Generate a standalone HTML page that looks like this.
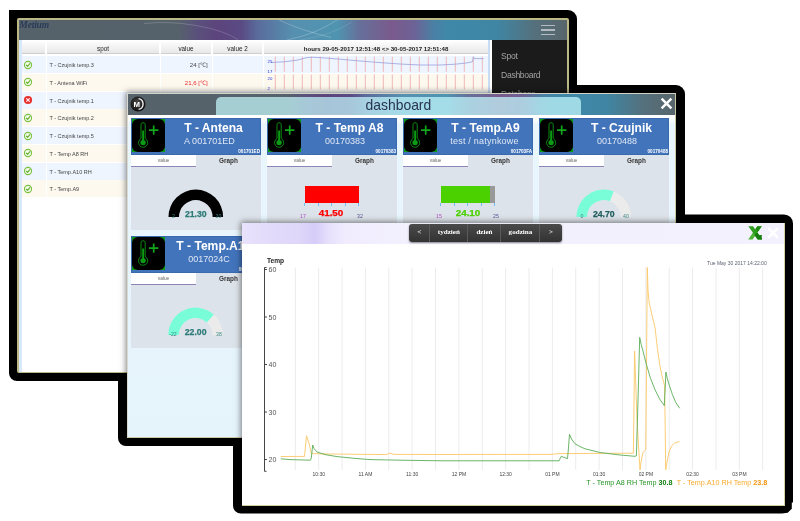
<!DOCTYPE html>
<html>
<head>
<meta charset="utf-8">
<style>
*{box-sizing:border-box;margin:0;padding:0}
html,body{width:800px;height:521px;background:#fff;overflow:hidden;font-family:"Liberation Sans",sans-serif;}
#root{position:absolute;left:0;top:0;width:800px;height:521px;will-change:transform;transform:translateZ(0)}
.a{position:absolute}
.frame{position:absolute;background:#000;border-radius:7px}
.win{position:absolute;overflow:hidden;border:1px solid #b9b27c;filter:blur(.35px)}
.clip{position:absolute;overflow:hidden}
.sh{position:absolute;box-shadow:0 0 6px 1px rgba(0,0,0,.5)}
/* window 1 */
#w1{left:17px;top:18px;width:552.4px;height:355px;background:#fff;border:2px solid #bdb986;border-bottom-width:1px;border-radius:2px}
#w1 .hdr{position:absolute;left:0;top:0;width:549px;height:20px;
 background:linear-gradient(90deg,#55626a 0,#56626b 29%,#5a507c 32.5%,#5c447c 36%,#5a4a84 40.5%,#5a6c9c 43.5%,#5690b0 50%,#4f94b0 58%,#66709a 62%,#7a5a8c 68%,#6d6296 72%,#4a80a4 75.5%,#3f88a8 78%,#3f86a4 87%,#55707c 94%,#58656b 100%)}
#w1 .logo{position:absolute;left:0.3px;top:-1.4px;font:italic bold 9.6px "Liberation Serif",serif;color:#2b3a58;letter-spacing:-.2px}
#w1 .body{position:absolute;left:0;top:20px;width:470.5px;height:333px;background:#fff;border-left:3px solid #d9e8fb;border-right:2px solid #c9dcf6}
.th{position:absolute;top:22.2px;height:11.8px;background:linear-gradient(#fbfbfb,#e8e8e8);border-bottom:1px solid #cfcfcf;font-size:6.3px;line-height:13.2px;text-align:center;color:#222}
.row{position:absolute;left:3px;width:466px;height:17px}
.row.b{background:#eef5fe}
.row.c{background:#fdf9ef}
.row span{position:absolute;top:0;line-height:19px;font-size:5.5px;color:#444;white-space:nowrap}
.vsep{position:absolute;top:22px;width:1.6px;height:160px;background:#fff}
.side{position:absolute;left:473px;top:20px;width:76px;height:333px;background:#1b1b1b;color:#a2a2a2;font-size:8.6px;letter-spacing:-.3px}
.side div{position:absolute;left:9px}
/* window 2 */
#w2{left:127px;top:93px;width:549.3px;height:345px;background:linear-gradient(#fff 0,#fff 24px,#e9f6fd 30px,#e5f3fb 100%);border-color:#d4d4c6 #cbc8a6 #cbc8a6 #d8d8d0}
#w2 .hdr{position:absolute;left:0;top:0;width:549px;height:20.8px;
 background:linear-gradient(90deg,#55626a 0,#56626b 29%,#5a507c 32.5%,#5c447c 36%,#5a4a84 40.5%,#5a6c9c 43.5%,#5690b0 50%,#4f94b0 58%,#66709a 62%,#7a5a8c 68%,#6d6296 72%,#4a80a4 75.5%,#3f88a8 78%,#3f86a4 87%,#55707c 94%,#58656b 100%)}
#w2 .tab{position:absolute;left:87.6px;top:3.2px;width:365.6px;height:17.6px;border-radius:5px 5px 0 0;
 background:rgba(200,252,255,.7);font-size:13.9px;line-height:17px;text-align:center;color:#283352}
.card{position:absolute;width:130px;height:112px;background:#dde3ea}
.card .ch{position:absolute;left:0;top:0;width:130px;height:36.6px;background:#4274bc;border:1px solid #3a69ae}
.card .ic{position:absolute;left:1.2px;top:1.3px;width:32.8px;height:32.4px;background:#0a9a12;overflow:hidden}
.card .ic i{position:absolute;left:0;top:0;width:32.8px;height:32.4px;background:#000;border-radius:6px}
.card .t1{position:absolute;top:2.4px;font-weight:bold;font-size:12.1px;line-height:14px;color:#fff;white-space:nowrap;transform:translateX(-50%)}
.card .t2{position:absolute;top:18px;font-size:9px;line-height:11px;color:#dfe7f3;white-space:nowrap;transform:translateX(-50%)}
.card .t3{position:absolute;right:1px;top:30.4px;font-weight:bold;font-size:4.6px;line-height:6px;color:#fff;white-space:nowrap}
.card .tv{position:absolute;left:0;top:36.6px;width:65px;height:11.8px;background:#fff;border-bottom:1px solid #8d84b8;font-size:4.8px;line-height:12.6px;text-align:center;color:#666}
.card .tg{position:absolute;left:65px;top:36.6px;width:65px;height:12px;font-weight:bold;font-size:6.4px;line-height:12.8px;text-align:center;color:#333}
.val{position:absolute;font-weight:bold;font-size:8.7px;line-height:10px;white-space:nowrap;transform:translateX(-50%);-webkit-text-stroke:.25px currentColor}
.val.w{font-size:8.2px;transform:translateX(-50%) scaleX(1.2)}
.lab{position:absolute;font-size:5.2px;line-height:6px;white-space:nowrap;transform:translateX(-50%)}

/* window 3 */
#w3{left:242px;top:222.8px;width:543.2px;height:283px;background:#fff;border-color:#d6d2a8 #d6d2a8 #d2cea2 #d6d2a8;border-width:0 1.5px 1px 0}
#w3 .hdr{position:absolute;left:0;top:0;width:543px;height:21.2px;
 background:linear-gradient(90deg,#e8e2fc 0,#e1dafa 6%,#dfd7fa 10.5%,#d6ccf8 13.4%,#e6e0fc 16%,#f0ecfe 19%,#f3f0fe 30%,#f3f1fe 100%)}
.btns{position:absolute;left:167.2px;top:1.5px;width:152.6px;height:17.8px;border-radius:3px;background:linear-gradient(#4a4a4a,#333);box-shadow:0 1px 2px rgba(0,0,0,.45);overflow:hidden}
.btns div{position:absolute;top:0;height:18px;line-height:17px;text-align:center;color:#fff;font:bold 7.1px/17px "Liberation Serif",serif;border-right:1px solid #5a5a5a}
</style>
</head>
<body>
<div id="root">
<div class="frame" style="left:9px;top:10px;width:567.6px;height:370.8px;border-radius:0 9px 0 8px"></div>
<div class="frame" style="left:118.3px;top:85.3px;width:566.4px;height:360.8px;border-radius:0 9px 0 8px"></div>
<svg class="a" style="left:0;top:0" width="800" height="521" viewBox="0 0 800 521"><path d="M233 214.4H784A9 9 0 0 1 793 223.4V502.6H791.8V508.8L787.7 512.7L782 513.6H241A8 8 0 0 1 233 505.6Z" fill="#000"/></svg>
<div class="win" id="w1">
<div class="hdr"></div>
<svg class="a" style="left:0;top:0" width="549" height="20" viewBox="19 20 549 20"><g fill="none" stroke="#fff" stroke-width=".8"><path d="M144 23.6Q168 20.6 196 25.5T238 39.6" stroke-opacity=".22"/><path d="M279 20Q300 30 331 37.5" stroke-opacity=".28"/><path d="M287 40Q316 34 337 20" stroke-opacity=".28"/><path d="M300 40Q330 36 352 22" stroke-opacity=".15"/></g></svg>
<div class="logo">Metium</div>
<div class="a" style="left:522px;top:4.85px;width:13.6px;height:1.6px;background:#b3bbc0"></div>
<div class="a" style="left:522px;top:9.35px;width:13.6px;height:1.6px;background:#b3bbc0"></div>
<div class="a" style="left:522px;top:13.85px;width:13.6px;height:1.6px;background:#b3bbc0"></div>
<div class="body"></div>
<div class="th" style="left:3px;width:23px;"></div>
<div class="th" style="left:28px;width:112px;">spot</div>
<div class="th" style="left:142px;width:50px;">value</div>
<div class="th" style="left:194px;width:49px;">value 2</div>
<div class="th" style="left:245px;width:224px;font-weight:bold;font-size:6.15px;">hours 29-05-2017 12:51:48 &lt;&gt; 30-05-2017 12:51:48</div>
<div class="row b" style="top:36.00px">
<span style="left:27.4px">T - Czujnik temp.3</span>
<span style="right:280.3px;top:-1px;color:#444;font-size:6.1px">24 [&#8451;]</span>
</div>
<svg class="a" style="left:4.20px;top:39.50px" width="10" height="10" viewBox="0 0 10 10"><circle cx="5" cy="5" r="3.6" fill="#f4fbe9" stroke="#7cc142" stroke-width="1.1"/><path d="M3.2 5.1L4.6 6.4L6.9 3.7" stroke="#5fae2c" stroke-width="1.1" fill="none" stroke-linecap="round" stroke-linejoin="round"/></svg>
<div class="row c" style="top:53.75px">
<span style="left:27.4px">T - Antena WiFi</span>
<span style="right:280.3px;top:-1px;color:#e8262a;font-size:6.1px">21,6 [&#8451;]</span>
</div>
<svg class="a" style="left:4.20px;top:57.25px" width="10" height="10" viewBox="0 0 10 10"><circle cx="5" cy="5" r="3.6" fill="#f4fbe9" stroke="#7cc142" stroke-width="1.1"/><path d="M3.2 5.1L4.6 6.4L6.9 3.7" stroke="#5fae2c" stroke-width="1.1" fill="none" stroke-linecap="round" stroke-linejoin="round"/></svg>
<div class="row b" style="top:71.50px">
<span style="left:27.4px">T - Czujnik temp.1</span>
</div>
<svg class="a" style="left:4.20px;top:75.00px" width="10" height="10" viewBox="0 0 10 10"><circle cx="5" cy="5" r="4.1" fill="#e8312f"/><path d="M3.3 3.3L6.7 6.7M6.7 3.3L3.3 6.7" stroke="#fff" stroke-width="1.05"/></svg>
<div class="row c" style="top:89.25px">
<span style="left:27.4px">T - Czujnik temp.2</span>
</div>
<svg class="a" style="left:4.20px;top:92.75px" width="10" height="10" viewBox="0 0 10 10"><circle cx="5" cy="5" r="3.6" fill="#f4fbe9" stroke="#7cc142" stroke-width="1.1"/><path d="M3.2 5.1L4.6 6.4L6.9 3.7" stroke="#5fae2c" stroke-width="1.1" fill="none" stroke-linecap="round" stroke-linejoin="round"/></svg>
<div class="row b" style="top:107.00px">
<span style="left:27.4px">T - Czujnik temp.5</span>
</div>
<svg class="a" style="left:4.20px;top:110.50px" width="10" height="10" viewBox="0 0 10 10"><circle cx="5" cy="5" r="3.6" fill="#f4fbe9" stroke="#7cc142" stroke-width="1.1"/><path d="M3.2 5.1L4.6 6.4L6.9 3.7" stroke="#5fae2c" stroke-width="1.1" fill="none" stroke-linecap="round" stroke-linejoin="round"/></svg>
<div class="row c" style="top:124.75px">
<span style="left:27.4px">T - Temp A8 RH</span>
</div>
<svg class="a" style="left:4.20px;top:128.25px" width="10" height="10" viewBox="0 0 10 10"><circle cx="5" cy="5" r="3.6" fill="#f4fbe9" stroke="#7cc142" stroke-width="1.1"/><path d="M3.2 5.1L4.6 6.4L6.9 3.7" stroke="#5fae2c" stroke-width="1.1" fill="none" stroke-linecap="round" stroke-linejoin="round"/></svg>
<div class="row b" style="top:142.50px">
<span style="left:27.4px">T - Temp.A10 RH</span>
</div>
<svg class="a" style="left:4.20px;top:146.00px" width="10" height="10" viewBox="0 0 10 10"><circle cx="5" cy="5" r="3.6" fill="#f4fbe9" stroke="#7cc142" stroke-width="1.1"/><path d="M3.2 5.1L4.6 6.4L6.9 3.7" stroke="#5fae2c" stroke-width="1.1" fill="none" stroke-linecap="round" stroke-linejoin="round"/></svg>
<div class="row c" style="top:160.25px">
<span style="left:27.4px">T - Temp.A9</span>
</div>
<svg class="a" style="left:4.20px;top:163.75px" width="10" height="10" viewBox="0 0 10 10"><circle cx="5" cy="5" r="3.6" fill="#f4fbe9" stroke="#7cc142" stroke-width="1.1"/><path d="M3.2 5.1L4.6 6.4L6.9 3.7" stroke="#5fae2c" stroke-width="1.1" fill="none" stroke-linecap="round" stroke-linejoin="round"/></svg>
<div class="vsep" style="left:26.5px"></div>
<div class="vsep" style="left:140.5px"></div>
<div class="vsep" style="left:192.5px"></div>
<div class="vsep" style="left:243.5px"></div>
<svg class="a" style="left:245px;top:35px" width="226" height="38" viewBox="264 55 226 38">
<path d="M275.3 56.7V71.8M275.3 74.5V89.4" stroke="#eeb0b0" stroke-width=".9" fill="none"/>
<path d="M284.3 56.7V71.8M284.3 74.5V89.4" stroke="#eeb0b0" stroke-width=".9" fill="none"/>
<path d="M293.3 56.7V71.8M293.3 74.5V89.4" stroke="#eeb0b0" stroke-width=".9" fill="none"/>
<path d="M302.3 56.7V71.8M302.3 74.5V89.4" stroke="#eeb0b0" stroke-width=".9" fill="none"/>
<path d="M311.3 56.7V71.8M311.3 74.5V89.4" stroke="#eeb0b0" stroke-width=".9" fill="none"/>
<path d="M320.3 56.7V71.8M320.3 74.5V89.4" stroke="#eeb0b0" stroke-width=".9" fill="none"/>
<path d="M329.3 56.7V71.8M329.3 74.5V89.4" stroke="#eeb0b0" stroke-width=".9" fill="none"/>
<path d="M338.3 56.7V71.8M338.3 74.5V89.4" stroke="#eeb0b0" stroke-width=".9" fill="none"/>
<path d="M347.3 56.7V71.8M347.3 74.5V89.4" stroke="#eeb0b0" stroke-width=".9" fill="none"/>
<path d="M356.3 56.7V71.8M356.3 74.5V89.4" stroke="#eeb0b0" stroke-width=".9" fill="none"/>
<path d="M365.3 56.7V71.8M365.3 74.5V89.4" stroke="#eeb0b0" stroke-width=".9" fill="none"/>
<path d="M374.3 56.7V71.8M374.3 74.5V89.4" stroke="#eeb0b0" stroke-width=".9" fill="none"/>
<path d="M383.3 56.7V71.8M383.3 74.5V89.4" stroke="#eeb0b0" stroke-width=".9" fill="none"/>
<path d="M392.3 56.7V71.8M392.3 74.5V89.4" stroke="#eeb0b0" stroke-width=".9" fill="none"/>
<path d="M401.3 56.7V71.8M401.3 74.5V89.4" stroke="#eeb0b0" stroke-width=".9" fill="none"/>
<path d="M410.3 56.7V71.8M410.3 74.5V89.4" stroke="#eeb0b0" stroke-width=".9" fill="none"/>
<path d="M419.3 56.7V71.8M419.3 74.5V89.4" stroke="#eeb0b0" stroke-width=".9" fill="none"/>
<path d="M428.3 56.7V71.8M428.3 74.5V89.4" stroke="#eeb0b0" stroke-width=".9" fill="none"/>
<path d="M437.3 56.7V71.8M437.3 74.5V89.4" stroke="#eeb0b0" stroke-width=".9" fill="none"/>
<path d="M446.3 56.7V71.8M446.3 74.5V89.4" stroke="#eeb0b0" stroke-width=".9" fill="none"/>
<path d="M455.3 56.7V71.8M455.3 74.5V89.4" stroke="#eeb0b0" stroke-width=".9" fill="none"/>
<path d="M464.3 56.7V71.8M464.3 74.5V89.4" stroke="#eeb0b0" stroke-width=".9" fill="none"/>
<path d="M473.3 56.7V71.8M473.3 74.5V89.4" stroke="#eeb0b0" stroke-width=".9" fill="none"/>
<path d="M482.3 56.7V71.8M482.3 74.5V89.4" stroke="#eeb0b0" stroke-width=".9" fill="none"/>
<path d="M271 62.5 L284 61.8 L297 60.2 L306 57.8 L311 57.2 L320 57.6 L340 59.2 L360 61 L380 62.6 L400 64 L420 65 L440 65 L455 64.2 L465 63.2 L472.4 61.8 L473.4 56.8 L474.6 58.6 L483.5 58.6" stroke="#9aa0dc" stroke-width=".8" fill="none"/>
<text x="267.5" y="62.5" font-size="4.3" fill="#2030d0" font-family="Liberation Sans">25</text>
<text x="267.5" y="72.7" font-size="4.3" fill="#2030d0" font-family="Liberation Sans">17</text>
<text x="267.5" y="80" font-size="4.3" fill="#2030d0" font-family="Liberation Sans">20</text>
<text x="267.5" y="90" font-size="4.3" fill="#2030d0" font-family="Liberation Sans">2</text>
</svg>
<div class="side"><div style="top:11px">Spot</div><div style="top:30.2px">Dashboard</div><div style="top:49.4px">Database</div></div>
</div>
<div class="clip" style="left:17px;top:18px;width:552px;height:355px"><div class="sh" style="left:110px;top:75px;width:549.3px;height:345px"></div></div>
<div class="win" id="w2">
<div class="hdr"></div><div class="tab">dashboard</div>
<svg class="a" style="left:1.9px;top:2.25px" width="16" height="16" viewBox="0 0 16 16"><defs><radialGradient id="mg" cx=".45" cy=".4" r=".6"><stop offset="0" stop-color="#4a4a4a"/><stop offset="1" stop-color="#0c0c0c"/></radialGradient></defs><circle cx="8" cy="8" r="7.5" fill="url(#mg)"/><path d="M8.6 2.6A5.5 5.5 0 0 1 8.6 13.4" fill="none" stroke="#f6f6f6" stroke-width="1.35"/><text x="6.7" y="10.9" text-anchor="middle" font-family="Liberation Sans" font-weight="bold" font-size="7.8" fill="#fff">M</text></svg>
<svg class="a" style="left:532.3px;top:2.9px" width="13" height="13" viewBox="0 0 13 13"><path d="M1.6 1.6L11.4 11.4M11.4 1.6L1.6 11.4" stroke="#fff" stroke-width="2.5" fill="none"/></svg>
<div class="card" style="left:3px;top:24.200000000000003px"><div class="ch"></div><div class="ic"><i></i><svg class="a" style="left:0;top:0" width="33" height="33" viewBox="0 0 33 33"><path d="M9 5.8a2.1 2.1 0 0 1 4.2 0V19.6a4.6 4.6 0 1 1 -4.2 0Z" fill="none" stroke="#0a8a10" stroke-width="1"/><circle cx="11.1" cy="23.6" r="2.7" fill="#0c9c14"/><rect x="10.2" y="11.5" width="1.9" height="11" fill="#0c9c14"/><path d="M17 11.1H26.4M21.7 6.4V15.8" stroke="#10a81a" stroke-width="1.7" fill="none"/></svg></div><div class="t1" style="left:82.5px">T - Antena</div><div class="t2" style="left:78.4px">A 001701ED</div><div class="t3">001701ED</div><div class="tv">value</div><div class="tg">Graph</div><svg class="a" style="left:0;top:60px" width="130" height="52" viewBox="0 60 130 52"><path d="M37.50 98.90A27.3 27.3 0 0 1 92.10 98.90L81.60 98.90A16.8 16.8 0 0 0 48.00 98.90Z" fill="#000"/></svg><div class="val" style="left:64.8px;top:90.60000000000001px;color:#2d7b78">21.30</div><div class="lab" style="left:42.5px;top:94.4px;color:#2d8a84">2</div><div class="lab" style="left:87.5px;top:94.4px;color:#3d8a86">20</div></div>
<div class="card" style="left:139px;top:24.200000000000003px"><div class="ch"></div><div class="ic"><i></i><svg class="a" style="left:0;top:0" width="33" height="33" viewBox="0 0 33 33"><path d="M9 5.8a2.1 2.1 0 0 1 4.2 0V19.6a4.6 4.6 0 1 1 -4.2 0Z" fill="none" stroke="#0a8a10" stroke-width="1"/><circle cx="11.1" cy="23.6" r="2.7" fill="#0c9c14"/><rect x="10.2" y="11.5" width="1.9" height="11" fill="#0c9c14"/><path d="M17 11.1H26.4M21.7 6.4V15.8" stroke="#10a81a" stroke-width="1.7" fill="none"/></svg></div><div class="t1" style="left:82.5px">T - Temp A8</div><div class="t2" style="left:78px">00170383</div><div class="t3">00170383</div><div class="tv">value</div><div class="tg">Graph</div><div class="a" style="left:37.6px;top:68.1px;width:54.199999999999996px;height:17px;background:#999"></div><div class="a" style="left:37.6px;top:68.1px;width:54.199999999999996px;height:17px;background:#ff0000"></div><div class="a" style="left:37.10px;top:84.8px;width:1px;height:3.2px;background:#74bdf2"></div><div class="a" style="left:50.65px;top:84.8px;width:1px;height:3.2px;background:#74bdf2"></div><div class="a" style="left:64.20px;top:84.8px;width:1px;height:3.2px;background:#74bdf2"></div><div class="a" style="left:77.75px;top:84.8px;width:1px;height:3.2px;background:#74bdf2"></div><div class="a" style="left:91.30px;top:84.8px;width:1px;height:3.2px;background:#74bdf2"></div><div class="val w" style="left:64.3px;top:90.8px;color:#ff0000">41.50</div><div class="lab" style="left:36px;top:94.4px;color:#b04fc0">17</div><div class="lab" style="left:93px;top:94.4px;color:#5d4f92">32</div></div>
<div class="card" style="left:275px;top:24.200000000000003px"><div class="ch"></div><div class="ic"><i></i><svg class="a" style="left:0;top:0" width="33" height="33" viewBox="0 0 33 33"><path d="M9 5.8a2.1 2.1 0 0 1 4.2 0V19.6a4.6 4.6 0 1 1 -4.2 0Z" fill="none" stroke="#0a8a10" stroke-width="1"/><circle cx="11.1" cy="23.6" r="2.7" fill="#0c9c14"/><rect x="10.2" y="11.5" width="1.9" height="11" fill="#0c9c14"/><path d="M17 11.1H26.4M21.7 6.4V15.8" stroke="#10a81a" stroke-width="1.7" fill="none"/></svg></div><div class="t1" style="left:82.5px">T - Temp.A9</div><div class="t2" style="left:81.5px"><span style="letter-spacing:.22px">test / natynkowe</span></div><div class="t3">001703FA</div><div class="tv">value</div><div class="tg">Graph</div><div class="a" style="left:37.6px;top:68.1px;width:54.199999999999996px;height:17px;background:#999"></div><div class="a" style="left:37.6px;top:68.1px;width:49.4px;height:17px;background:#4cd100"></div><div class="a" style="left:37.10px;top:84.8px;width:1px;height:3.2px;background:#74bdf2"></div><div class="a" style="left:50.65px;top:84.8px;width:1px;height:3.2px;background:#74bdf2"></div><div class="a" style="left:64.20px;top:84.8px;width:1px;height:3.2px;background:#74bdf2"></div><div class="a" style="left:77.75px;top:84.8px;width:1px;height:3.2px;background:#74bdf2"></div><div class="a" style="left:91.30px;top:84.8px;width:1px;height:3.2px;background:#74bdf2"></div><div class="val w" style="left:64.5px;top:90.8px;color:#4cd100">24.10</div><div class="lab" style="left:36px;top:94.4px;color:#b04fc0">15</div><div class="lab" style="left:93px;top:94.4px;color:#5d4f92">25</div></div>
<div class="card" style="left:411px;top:24.200000000000003px"><div class="ch"></div><div class="ic"><i></i><svg class="a" style="left:0;top:0" width="33" height="33" viewBox="0 0 33 33"><path d="M9 5.8a2.1 2.1 0 0 1 4.2 0V19.6a4.6 4.6 0 1 1 -4.2 0Z" fill="none" stroke="#0a8a10" stroke-width="1"/><circle cx="11.1" cy="23.6" r="2.7" fill="#0c9c14"/><rect x="10.2" y="11.5" width="1.9" height="11" fill="#0c9c14"/><path d="M17 11.1H26.4M21.7 6.4V15.8" stroke="#10a81a" stroke-width="1.7" fill="none"/></svg></div><div class="t1" style="left:82.5px">T - Czujnik</div><div class="t2" style="left:78px">00170488</div><div class="t3">00170488</div><div class="tv">value</div><div class="tg">Graph</div><svg class="a" style="left:0;top:60px" width="130" height="52" viewBox="0 60 130 52"><path d="M37.50 98.90A27.3 27.3 0 0 1 92.10 98.90L81.60 98.90A16.8 16.8 0 0 0 48.00 98.90Z" fill="#ebebeb"/><path d="M37.50 98.90A27.3 27.3 0 0 1 74.65 73.44L70.86 83.23A16.8 16.8 0 0 0 48.00 98.90Z" fill="#78fdd8"/></svg><div class="val" style="left:64.8px;top:90.60000000000001px;color:#1f5f5e">24.70</div><div class="lab" style="left:43px;top:94.4px;color:#2d8a84">0</div><div class="lab" style="left:87px;top:94.4px;color:#3d8a86">40</div></div>
<div class="card" style="left:3px;top:142.2px"><div class="ch"></div><div class="ic"><i></i><svg class="a" style="left:0;top:0" width="33" height="33" viewBox="0 0 33 33"><path d="M9 5.8a2.1 2.1 0 0 1 4.2 0V19.6a4.6 4.6 0 1 1 -4.2 0Z" fill="none" stroke="#0a8a10" stroke-width="1"/><circle cx="11.1" cy="23.6" r="2.7" fill="#0c9c14"/><rect x="10.2" y="11.5" width="1.9" height="11" fill="#0c9c14"/><path d="M17 11.1H26.4M21.7 6.4V15.8" stroke="#10a81a" stroke-width="1.7" fill="none"/></svg></div><div class="t1" style="left:82.80000000000001px">T - Temp.A10</div><div class="t2" style="left:78px">0017024C</div><div class="t3">0017024C</div><div class="tv">value</div><div class="tg">Graph</div><svg class="a" style="left:0;top:60px" width="130" height="52" viewBox="0 60 130 52"><path d="M37.30 98.90A27.3 27.3 0 0 1 91.90 98.90L81.40 98.90A16.8 16.8 0 0 0 47.80 98.90Z" fill="#ebebeb"/><path d="M37.30 98.90A27.3 27.3 0 0 1 82.87 78.61L75.84 86.42A16.8 16.8 0 0 0 47.80 98.90Z" fill="#78fdd8"/></svg><div class="val" style="left:64.6px;top:90.60000000000001px;color:#2d7b78">22.00</div><div class="lab" style="left:42px;top:94.4px;color:#2d8a84">-22</div><div class="lab" style="left:88px;top:94.4px;color:#3d8a86">38</div></div>
</div>
<div class="clip" style="left:127px;top:93px;width:551px;height:345px"><div class="sh" style="left:115px;top:129.8px;width:543px;height:283px"></div></div>
<div class="win" id="w3">
<div class="hdr"></div>
<div class="btns">
<div style="left:0px;width:21px;">&lt;</div>
<div style="left:21px;width:38.3px;">tydzień</div>
<div style="left:59.3px;width:33.0px;">dzień</div>
<div style="left:92.3px;width:38.89999999999999px;">godzina</div>
<div style="left:131.2px;width:21.400000000000006px;border-right:0;">&gt;</div>
</div>
<svg class="a" style="left:0;top:21px" width="543" height="260" viewBox="242 244 543 260" font-family="Liberation Sans">
<path d="M295.30 267.5V470M318.67 267.5V470M342.04 267.5V470M365.41 267.5V470M388.78 267.5V470M412.15 267.5V470M435.52 267.5V470M458.89 267.5V470M482.26 267.5V470M505.63 267.5V470M529.00 267.5V470M552.37 267.5V470M575.74 267.5V470M599.11 267.5V470M622.48 267.5V470M645.85 267.5V470M669.22 267.5V470M692.59 267.5V470M715.96 267.5V470M739.33 267.5V470M762.70 267.5V470" stroke="#ececec" stroke-width="1" fill="none"/>
<path d="M266.5 267.5H264.5V471.3H266.5" stroke="#444" stroke-width="1" fill="none"/>
<path d="M264.5 269.5H267" stroke="#444" stroke-width="1"/>
<text x="268.5" y="272.4" font-size="7" fill="#555">60</text>
<path d="M264.5 317H267" stroke="#444" stroke-width="1"/>
<text x="268.5" y="319.9" font-size="7" fill="#555">50</text>
<path d="M264.5 364.5H267" stroke="#444" stroke-width="1"/>
<text x="268.5" y="367.4" font-size="7" fill="#555">40</text>
<path d="M264.5 412H267" stroke="#444" stroke-width="1"/>
<text x="268.5" y="414.9" font-size="7" fill="#555">30</text>
<path d="M264.5 459.5H267" stroke="#444" stroke-width="1"/>
<text x="268.5" y="462.4" font-size="7" fill="#555">20</text>
<text x="267" y="263" font-size="6.6" font-weight="bold" fill="#222">Temp</text>
<text x="766.7" y="265.1" font-size="5" text-anchor="end" fill="#5a6270">Tue May 30 2017 14:22:00</text>
<text x="318.70" y="476" font-size="5" text-anchor="middle" fill="#444">10:30</text>
<text x="365.44" y="476" font-size="5" text-anchor="middle" fill="#444">11 AM</text>
<text x="412.18" y="476" font-size="5" text-anchor="middle" fill="#444">11:30</text>
<text x="458.92" y="476" font-size="5" text-anchor="middle" fill="#444">12 PM</text>
<text x="505.66" y="476" font-size="5" text-anchor="middle" fill="#444">12:30</text>
<text x="552.40" y="476" font-size="5" text-anchor="middle" fill="#444">01 PM</text>
<text x="599.14" y="476" font-size="5" text-anchor="middle" fill="#444">01:30</text>
<text x="645.88" y="476" font-size="5" text-anchor="middle" fill="#444">02 PM</text>
<text x="692.62" y="476" font-size="5" text-anchor="middle" fill="#444">02:30</text>
<text x="739.36" y="476" font-size="5" text-anchor="middle" fill="#444">03 PM</text>
<path d="M280.8 456.5 L304.5 456.4 L306.5 435.8 L309.5 445 L311.2 453.6 L330 454 L386 454.6 L389.5 453.2 L394 454.4 L440 454.5 L550 454.4 L560 453.6 L633.4 453.2 L634.6 351 L637 420 L640 470 L641 462 L643 452.5 L645.8 449.4 L646.4 380 L647.3 267.5 L648 290 L649.2 303 L651.5 313 L655.1 328 L657.4 348.4 L659.7 364.5 L662 376 L664.5 385.2 L665.1 420 L665.7 470 L667 462 L669 452 L671.5 446 L675 442.8 L679.5 441.6" stroke="#fbc766" stroke-width=".9" fill="none" stroke-linejoin="round"/>
<path d="M280.8 458.8 L290 459.6 L310.4 460.2 L311.3 458 L312.7 445 L314 448.5 L317 452 L325 454.6 L337 456.6 L355 458.4 L370 459.6 L400 460.2 L442 460.8 L559 460.8 L561.3 456.3 L564 457.4 L567.5 458.6 L568.3 450 L569.5 434.3 L571.5 439 L575 443.8 L580 446.6 L585 448.8 L600 452.5 L620 455 L635 456.3 L636.4 455.8 L638 400 L639.7 337.4 L641.2 344.5 L642.9 350.7 L646.4 364.5 L650.5 378.3 L655.1 389.9 L659.7 399.1 L664.3 405.6 L665.1 390 L665.9 372.1 L667.3 378.5 L668.9 384.1 L672.4 394.5 L675.8 402.5 L679.7 408.3" stroke="#5aad55" stroke-width=".9" fill="none" stroke-linejoin="round"/>
<text x="586.3" y="484.8" font-size="7.4" textLength="86.2" lengthAdjust="spacingAndGlyphs"><tspan fill="#259525">T - Temp A8 RH Temp </tspan><tspan fill="#0f7d0f" font-weight="bold">30.8</tspan></text>
<text x="676.7" y="484.8" font-size="7.4" textLength="90.5" lengthAdjust="spacingAndGlyphs"><tspan fill="#f9aa2e">T - Temp.A10 RH Temp </tspan><tspan fill="#f29408" font-weight="bold">23.8</tspan></text>
</svg>
<svg class="a" style="left:505.5px;top:3.25px" width="14.7" height="13.75" viewBox="0 0 14.7 13.75"><path d="M9.3 0.2H13.8L4.6 13.6H0.2Z" fill="#4fb536"/><path d="M9.3 0.2H13.8L9.6 6.3L7.2 3.4Z" fill="#1d8a14"/><path d="M0.4 0.2H5.1L9.3 6.4L11.3 9.3L14.5 9.1L13.2 10.9L14.7 13.6H9.7L5.3 7.3Z" fill="#2f9d1f"/><path d="M6.6 9.2L9.7 13.6H14.7L13.2 10.9L14.5 9.1L11.3 9.3L9.3 6.4Z" fill="#167c0e"/></svg>
<svg class="a" style="left:525.4px;top:4px" width="12" height="12" viewBox="0 0 12 12"><path d="M1.3 1.4L10.7 10.6M10.7 1.4L1.3 10.6" stroke="#fff" stroke-width="2.5" fill="none"/></svg>
</div>
</div>
</body>
</html>
